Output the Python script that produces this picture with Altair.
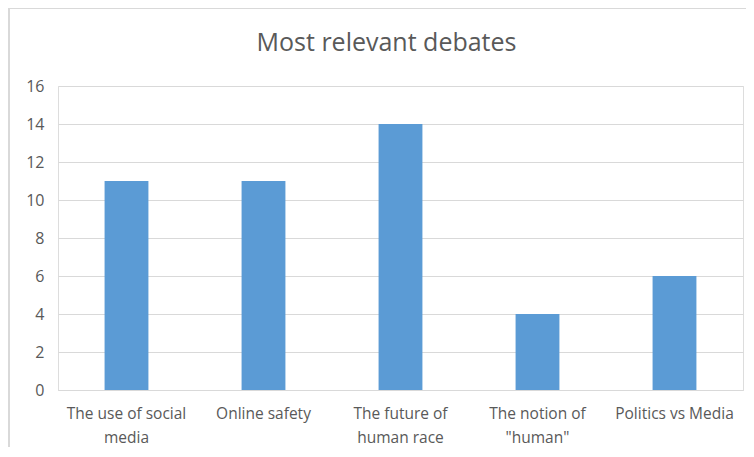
import altair as alt
import pandas as pd

categories = [
    "The use of social\nmedia",
    "Online safety",
    "The future of\nhuman race",
    "The notion of\n\"human\"",
    "Politics vs Media",
]
values = [11, 11, 14, 4, 6]
title_text = "Most relevant debates"

df = pd.DataFrame({"debate": categories, "count": values})

FONT = "Open Sans"
GRAY = "#595959"

bars = alt.Chart(df).mark_bar(color="#5B9BD5", width=alt.RelativeBandSize(0.32)).encode(
    x=alt.X(
        "debate:N",
        sort=categories,
        scale=alt.Scale(paddingInner=0, paddingOuter=0),
        axis=alt.Axis(
            title=None,
            labelAngle=0,
            labelExpr="split(datum.label, '\\n')",
            labelFont=FONT,
            labelFontSize=15.5,
            labelColor=GRAY,
            labelPadding=16,
            labelLineHeight=24,
            ticks=False,
            domainColor="#d9d9d9",
            labelBaseline="top",
        ),
    ),
    y=alt.Y(
        "count:Q",
        scale=alt.Scale(domain=[0, 16]),
        axis=alt.Axis(
            title=None,
            values=[0, 2, 4, 6, 8, 10, 12, 14, 16],
            labelFont=FONT,
            labelFontSize=16,
            labelColor=GRAY,
            labelPadding=14,
            ticks=False,
            domain=False,
            gridColor="#d9d9d9",
        ),
    ),
)

border = alt.Chart(df).mark_rect(
    fill=None, stroke="#d9d9d9", strokeWidth=1.5, clip=False
).encode(
    x=alt.value(-49), x2=alt.value(760), y=alt.value(-78), y2=alt.value(500)
)

chart = (
    alt.layer(border, bars)
    .properties(
        width=685,
        height=304,
        title=alt.Title(
            title_text,
            font=FONT,
            fontSize=25,
            fontWeight="normal",
            color=GRAY,
            anchor="middle",
            offset=-49,
            dx=-14,
        ),
        autosize=alt.AutoSizeParams(type="none"),
        padding={"left": 50, "top": 78, "right": 3, "bottom": 57},
    )
    .configure_view(stroke=None)
    .configure(background="white")
)

chart.save("out.html", embed_options={"renderer": "svg", "actions": False})
